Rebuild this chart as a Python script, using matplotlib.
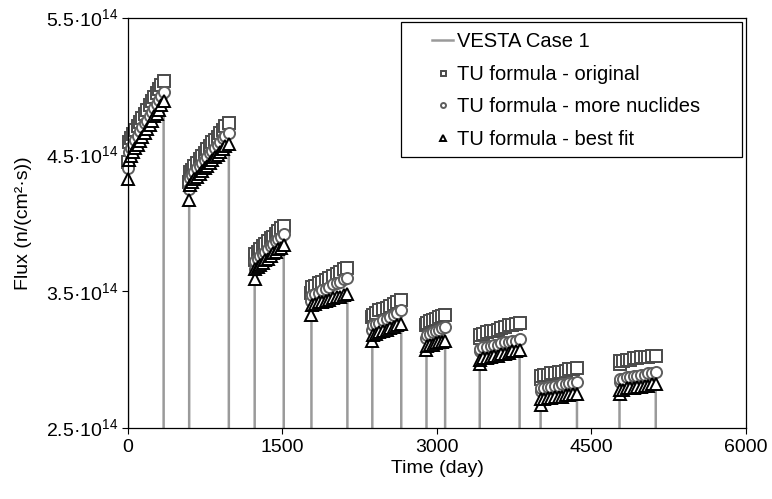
import numpy as np
import matplotlib.pyplot as plt
from matplotlib.patches import Rectangle

plt.rcParams['font.family'] = ['Liberation Sans', 'DejaVu Sans']
plt.rcParams['mathtext.fontset'] = 'custom'
plt.rcParams['mathtext.rm'] = 'Liberation Sans'

# burnup step times (day) for each irradiation cycle
cycle_days = [
    [0, 5, 25, 48, 71, 94, 117, 140, 163, 186, 209, 232, 255, 278, 301, 324, 346],
    [594, 599, 620, 645, 670, 695, 720, 745, 770, 795, 820, 845, 870, 895, 920, 945, 979],
    [1230, 1235, 1260, 1285, 1310, 1335, 1360, 1385, 1410, 1435, 1460, 1485, 1512],
    [1781, 1786, 1815, 1850, 1885, 1920, 1955, 1990, 2025, 2060, 2095, 2130],
    [2372, 2377, 2405, 2440, 2475, 2510, 2545, 2580, 2615, 2653],
    [2898, 2903, 2930, 2960, 2990, 3020, 3050, 3079],
    [3415, 3420, 3450, 3485, 3520, 3555, 3590, 3625, 3660, 3695, 3730, 3765, 3802],
    [4006, 4011, 4040, 4075, 4110, 4145, 4180, 4215, 4250, 4285, 4320, 4359],
    [4772, 4777, 4805, 4840, 4875, 4910, 4945, 4980, 5015, 5050, 5085, 5124],
]

# flux in units of 1e14 n/(cm2 s)
tu_original = [
    [4.45, 4.59, 4.62, 4.65, 4.68, 4.71, 4.74, 4.77, 4.80, 4.83, 4.86, 4.89, 4.92,
     4.95, 4.98, 5.01, 5.04],
    [4.30, 4.37, 4.39, 4.42, 4.44, 4.47, 4.49, 4.51, 4.54, 4.56, 4.59, 4.61, 4.63,
     4.66, 4.68, 4.71, 4.73],
    [3.73, 3.77, 3.79, 3.81, 3.83, 3.85, 3.87, 3.89, 3.90, 3.92, 3.94, 3.96, 3.98],
    [3.49, 3.53, 3.54, 3.56, 3.57, 3.58, 3.60, 3.61, 3.63, 3.64, 3.66, 3.67],
    [3.31, 3.33, 3.34, 3.36, 3.37, 3.38, 3.39, 3.41, 3.42, 3.44],
    [3.25, 3.27, 3.28, 3.29, 3.30, 3.31, 3.32, 3.33],
    [3.16, 3.18, 3.19, 3.20, 3.21, 3.21, 3.22, 3.23, 3.24, 3.25, 3.25, 3.26, 3.27],
    [2.86, 2.88, 2.89, 2.89, 2.90, 2.90, 2.91, 2.91, 2.92, 2.93, 2.93, 2.94],
    [2.97, 2.99, 2.99, 3.00, 3.00, 3.01, 3.01, 3.02, 3.02, 3.02, 3.03, 3.03],
]
tu_more_nuclides = [
    [4.40, 4.52, 4.55, 4.58, 4.61, 4.64, 4.67, 4.70, 4.73, 4.75, 4.78, 4.81, 4.84,
     4.87, 4.90, 4.93, 4.96],
    [4.25, 4.33, 4.35, 4.37, 4.40, 4.42, 4.44, 4.46, 4.48, 4.51, 4.53, 4.55, 4.57,
     4.59, 4.62, 4.64, 4.66],
    [3.66, 3.72, 3.74, 3.76, 3.77, 3.79, 3.81, 3.83, 3.85, 3.87, 3.88, 3.90, 3.92],
    [3.43, 3.47, 3.48, 3.49, 3.51, 3.52, 3.53, 3.55, 3.56, 3.57, 3.59, 3.60],
    [3.22, 3.25, 3.26, 3.27, 3.29, 3.30, 3.31, 3.33, 3.34, 3.36],
    [3.16, 3.18, 3.19, 3.20, 3.21, 3.22, 3.23, 3.24],
    [3.06, 3.08, 3.09, 3.09, 3.10, 3.11, 3.11, 3.12, 3.13, 3.13, 3.14, 3.14, 3.15],
    [2.77, 2.79, 2.79, 2.80, 2.80, 2.81, 2.81, 2.82, 2.82, 2.83, 2.83, 2.84],
    [2.84, 2.86, 2.86, 2.87, 2.87, 2.88, 2.88, 2.89, 2.89, 2.90, 2.90, 2.91],
]
tu_best_fit = [
    [4.32, 4.46, 4.49, 4.52, 4.55, 4.57, 4.60, 4.63, 4.66, 4.69, 4.72, 4.75, 4.78,
     4.80, 4.83, 4.86, 4.89],
    [4.17, 4.28, 4.30, 4.32, 4.34, 4.36, 4.38, 4.40, 4.42, 4.44, 4.46, 4.48, 4.50,
     4.52, 4.54, 4.56, 4.58],
    [3.59, 3.66, 3.68, 3.69, 3.71, 3.73, 3.74, 3.76, 3.78, 3.79, 3.81, 3.82, 3.84],
    [3.33, 3.40, 3.41, 3.42, 3.42, 3.43, 3.44, 3.45, 3.46, 3.46, 3.47, 3.48],
    [3.14, 3.18, 3.19, 3.20, 3.21, 3.22, 3.23, 3.24, 3.25, 3.26],
    [3.07, 3.10, 3.11, 3.11, 3.12, 3.13, 3.13, 3.14],
    [2.97, 3.00, 3.01, 3.01, 3.02, 3.03, 3.03, 3.04, 3.04, 3.05, 3.06, 3.06, 3.07],
    [2.67, 2.71, 2.71, 2.72, 2.72, 2.73, 2.73, 2.73, 2.74, 2.74, 2.75, 2.75],
    [2.75, 2.78, 2.78, 2.79, 2.79, 2.79, 2.80, 2.80, 2.81, 2.81, 2.82, 2.82],
]
# VESTA flux at cycle start, first step and cycle end (zero during shutdown)
vesta_flux = [
    [4.33, 4.47, 4.90],
    [4.18, 4.29, 4.59],
    [3.60, 3.67, 3.85],
    [3.34, 3.41, 3.49],
    [3.15, 3.19, 3.27],
    [3.08, 3.11, 3.15],
    [2.98, 3.01, 3.08],
    [2.68, 2.72, 2.76],
    [2.76, 2.79, 2.83],
]


def main():
    fig = plt.figure(figsize=(7.72, 4.99), dpi=100)
    ax = fig.add_axes([0.1658, 0.1423, 0.8005, 0.8216])

    vesta_t, vesta_f = [], []
    for days, vf in zip(cycle_days, vesta_flux):
        vesta_t += [days[0], days[0], days[1], days[-1], days[-1]]
        vesta_f += [0, vf[0], vf[1], vf[2], 0]
    ax.plot(vesta_t, np.array(vesta_f) * 1e14, color='#9a9a9a', lw=1.8,
            zorder=1, label='VESTA Case 1')

    t_all = np.concatenate(cycle_days)
    styles = [
        (tu_original, 's', '#4a4a4a', 8, 'TU formula - original'),
        (tu_more_nuclides, 'o', '#5e5e5e', 8, 'TU formula - more nuclides'),
        (tu_best_fit, '^', '#000000', 8.5, 'TU formula - best fit'),
    ]
    for series, marker, color, size, label in styles:
        flux = np.concatenate(series) * 1e14
        ax.plot(t_all, flux, ls='none', marker=marker, ms=size,
                mfc='white', mec=color, mew=1.4, zorder=2, label=label,
                clip_on=False)

    ax.set_xlim(0, 6000)
    ax.set_ylim(2.5e14, 5.5e14)
    ax.set_xticks([0, 1500, 3000, 4500, 6000])
    ax.set_yticks([2.5e14, 3.5e14, 4.5e14, 5.5e14])
    ax.set_yticklabels([r'2.5·10$^{14}$', r'3.5·10$^{14}$',
                        r'4.5·10$^{14}$', r'5.5·10$^{14}$'])
    ax.tick_params(direction='out', length=4, width=0.8, labelsize=14,
                   colors='black', pad=3)
    ax.tick_params(axis='x', pad=4)
    for sp in ax.spines.values():
        sp.set_linewidth(0.9)
    ax.set_xlabel('Time (day)', fontsize=14, labelpad=3)
    ax.set_ylabel('Flux (n/(cm²·s))', fontsize=14, labelpad=10)

    # legend box drawn separately so the entries sit inset
    ax.add_patch(Rectangle((0.442, 0.661), 0.5515, 0.329, transform=ax.transAxes,
                           facecolor='white', edgecolor='black', lw=0.9,
                           zorder=5))
    leg = ax.legend(loc='upper left', bbox_to_anchor=(0.492, 0.966),
                    frameon=False, fontsize=14.5, borderpad=0, borderaxespad=0,
                    labelspacing=0.68, handlelength=1.05, handletextpad=0.2,
                    markerscale=0.45)
    leg.set_zorder(6)

    fig.savefig('out.png', dpi=100)


if __name__ == '__main__':
    main()
